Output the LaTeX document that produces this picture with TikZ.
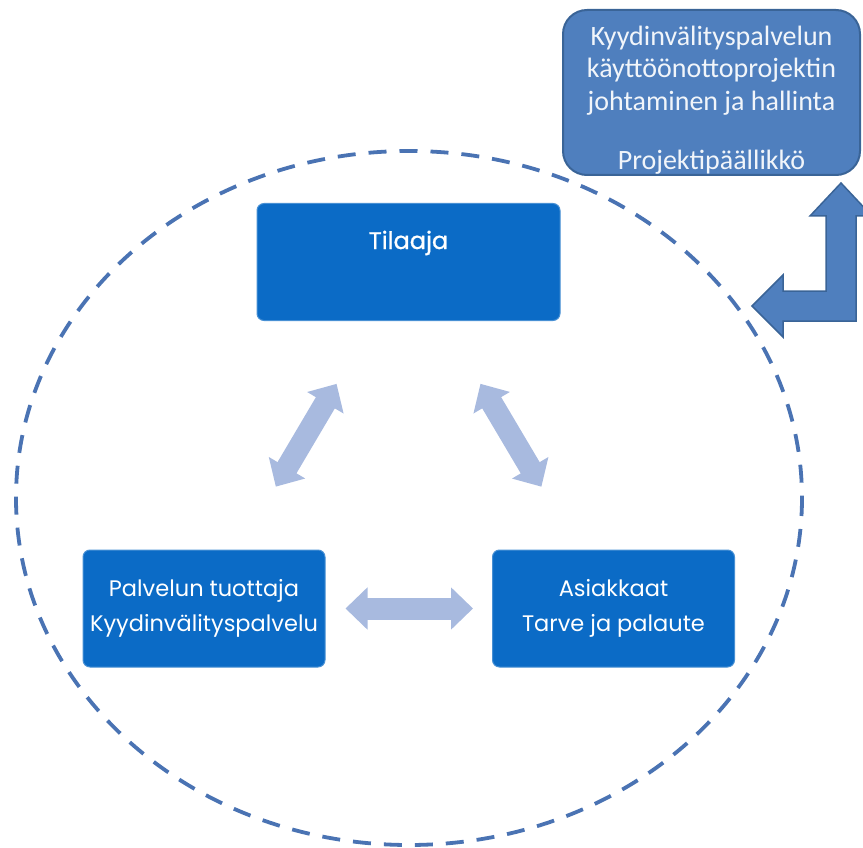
\documentclass[tikz,border=0pt]{standalone}
\usepackage{fontspec}
\usetikzlibrary{arrows.meta}
\newfontfamily\gothic{Poppins}
\newfontfamily\gothicheavy{Poppins}[FakeBold=1]
\newfontfamily\calib{Carlito}
\definecolor{boxblue}{HTML}{0B6BC6}
\definecolor{pmblue}{HTML}{4F7FBE}
\definecolor{pmedge}{HTML}{3A6497}
\definecolor{lightarrow}{HTML}{A8BADF}
\definecolor{ringblue}{HTML}{4A73B3}

\begin{document}
\begin{tikzpicture}[x=1pt,y=-1pt,
    box/.style={fill=boxblue, draw=boxblue!75!white, line width=1pt, rounded corners=7pt,
      text=white, align=center, font=\gothic\fontsize{22.5}{35}\selectfont,
      minimum width=242pt, minimum height=117pt},
    pmbox/.style={fill=pmblue, draw=pmedge, line width=2pt, rounded corners=24pt,
      minimum width=297pt, minimum height=165pt},
    pmtext/.style={text=white!92!pmblue, align=center, font=\calib\fontsize{28}{32.5}\selectfont},
    fatarrow/.style={draw=lightarrow, line width=22pt,
      {Triangle[width=41pt,length=22pt]}-{Triangle[width=41pt,length=22pt]}},
  ]
  \useasboundingbox (0,0) rectangle (863,848);

  % dashed ring
  \draw[ringblue, line width=3.8pt, dash pattern=on 18pt off 13pt]
    (409,498) ellipse [x radius=393, y radius=347];

  % the three parties
  \node[box, minimum width=303pt, inner ysep=0pt, text height=42pt, text depth=68pt,
    anchor=base, font=\gothicheavy\fontsize{24}{30}\selectfont] (tilaaja) at (408.5,249) {Tilaaja};
  \node[box] (palvelu) at (204,608.5) {Palvelun tuottaja\\Kyydinvälityspalvelu};
  \node[box] (asiakkaat) at (613.5,608.5) {Asiakkaat\\Tarve ja palaute};

  % project management
  \node[pmbox] (projekti) at (711.5,92.5) {};
  \node[pmtext] (projektiteksti) at (711.5,100)
    {Kyydinvälityspalvelun\\käyttöönottoprojektin\\johtaminen ja hallinta\\[27pt]Projektipäällikkö};

  % bent arrow
  \filldraw[fill=pmblue, draw=pmedge, line width=1.5pt]
    (752,306) -- (783,275) -- (783,291) -- (826,291) -- (826,216) -- (810,216)
    -- (841,183) -- (872,216) -- (856,216) -- (856,321) -- (783,321) -- (783,337) -- cycle;

  % connectors
  \draw[fatarrow, shorten <=73pt, shorten >=73pt] (palvelu) -- (tilaaja);
  \draw[fatarrow, shorten <=73pt, shorten >=73pt] (tilaaja) -- (asiakkaat);
  \draw[fatarrow, shorten <=20pt, shorten >=19pt] (palvelu) -- (asiakkaat);
\end{tikzpicture}
\end{document}
